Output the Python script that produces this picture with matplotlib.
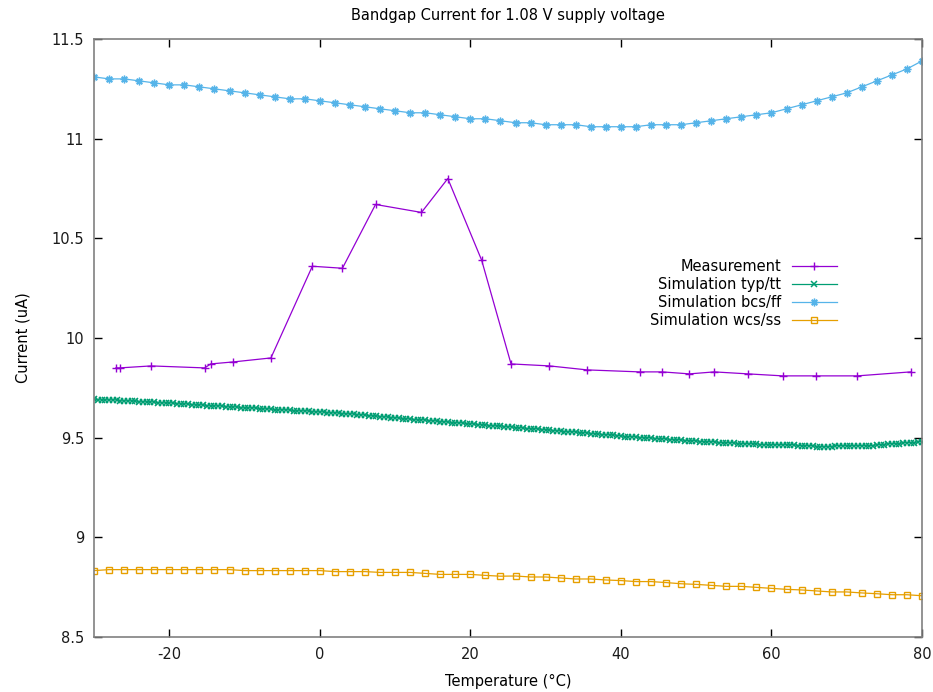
"""Bandgap current vs temperature at 1.08 V supply: measurement vs. corner simulations."""
import matplotlib
matplotlib.use("Agg")
import matplotlib.pyplot as plt
import numpy as np

# --- measurement -----------------------------------------------------------
MEAS_T = [-27.1, -26.6, -22.4, -15.3, -14.5, -11.5, -6.5, -1.0, 3.0, 7.4,
          13.5, 17.0, 21.5, 25.4, 30.5, 35.5, 42.5, 45.5, 49.1, 52.4,
          56.9, 61.5, 65.9, 71.4, 78.5]
MEAS_I = [9.85, 9.85, 9.86, 9.85, 9.87, 9.88, 9.90, 10.36, 10.35, 10.67,
          10.63, 10.80, 10.39, 9.87, 9.86, 9.84, 9.83, 9.83, 9.82, 9.83,
          9.82, 9.81, 9.81, 9.81, 9.83]

# --- simulation typ/tt (0.5 degC steps, -30 .. 80) ---------------------------
TT_T = np.arange(-30, 80.5, 0.5)
TT_I = [
    9.695, 9.690, 9.690, 9.690, 9.690, 9.690, 9.690, 9.685, 9.685, 9.685,
    9.685, 9.685, 9.680, 9.680, 9.680, 9.680, 9.680, 9.675, 9.675, 9.675,
    9.675, 9.675, 9.670, 9.670, 9.670, 9.670, 9.665, 9.665, 9.665, 9.665,
    9.660, 9.660, 9.660, 9.660, 9.660, 9.655, 9.655, 9.655, 9.655, 9.650,
    9.650, 9.650, 9.650, 9.650, 9.645, 9.645, 9.645, 9.645, 9.640, 9.640,
    9.640, 9.640, 9.640, 9.635, 9.635, 9.635, 9.635, 9.635, 9.630, 9.630,
    9.630, 9.630, 9.625, 9.625, 9.625, 9.625, 9.620, 9.620, 9.620, 9.620,
    9.615, 9.615, 9.615, 9.610, 9.610, 9.610, 9.605, 9.605, 9.605, 9.600,
    9.600, 9.600, 9.595, 9.595, 9.595, 9.590, 9.590, 9.590, 9.590, 9.585,
    9.585, 9.585, 9.580, 9.580, 9.580, 9.575, 9.575, 9.575, 9.575, 9.570,
    9.570, 9.570, 9.565, 9.565, 9.565, 9.560, 9.560, 9.560, 9.560, 9.555,
    9.555, 9.555, 9.550, 9.550, 9.550, 9.545, 9.545, 9.545, 9.545, 9.540,
    9.540, 9.540, 9.535, 9.535, 9.535, 9.530, 9.530, 9.530, 9.530, 9.525,
    9.525, 9.525, 9.520, 9.520, 9.520, 9.515, 9.515, 9.515, 9.515, 9.510,
    9.510, 9.505, 9.505, 9.505, 9.505, 9.500, 9.500, 9.500, 9.500, 9.495,
    9.495, 9.495, 9.495, 9.490, 9.490, 9.490, 9.490, 9.485, 9.485, 9.485,
    9.485, 9.480, 9.480, 9.480, 9.480, 9.480, 9.475, 9.475, 9.475, 9.475,
    9.475, 9.470, 9.470, 9.470, 9.470, 9.470, 9.470, 9.465, 9.465, 9.465,
    9.465, 9.465, 9.465, 9.465, 9.465, 9.465, 9.465, 9.460, 9.460, 9.460,
    9.460, 9.460, 9.455, 9.455, 9.455, 9.455, 9.455, 9.460, 9.460, 9.460,
    9.460, 9.460, 9.460, 9.460, 9.460, 9.460, 9.460, 9.460, 9.465, 9.465,
    9.465, 9.470, 9.470, 9.470, 9.470, 9.475, 9.475, 9.475, 9.475, 9.480,
    9.480,
]

# --- corner simulations (2 degC steps) --------------------------------------
CORNER_T = np.arange(-30, 81, 2)
FF_I = [11.31, 11.30, 11.30, 11.29, 11.28, 11.27, 11.27, 11.26, 11.25, 11.24,
        11.23, 11.22, 11.21, 11.20, 11.20, 11.19, 11.18, 11.17, 11.16, 11.15,
        11.14, 11.13, 11.13, 11.12, 11.11, 11.10, 11.10, 11.09,
        11.08, 11.08, 11.07, 11.07, 11.07, 11.06, 11.06, 11.06, 11.06, 11.07,
        11.07, 11.07, 11.08, 11.09, 11.10, 11.11, 11.12, 11.13, 11.15, 11.17,
        11.19, 11.21, 11.23, 11.26, 11.29, 11.32, 11.35, 11.39]
SS_I = [8.833, 8.838, 8.838, 8.838, 8.838, 8.838, 8.838, 8.838, 8.838, 8.838,
        8.833, 8.833, 8.833, 8.833, 8.833, 8.833, 8.828, 8.828, 8.828, 8.824,
        8.824, 8.824, 8.819, 8.814, 8.814, 8.814, 8.809, 8.805,
        8.806, 8.801, 8.801, 8.796, 8.791, 8.791, 8.786, 8.783, 8.778, 8.778,
        8.773, 8.767, 8.764, 8.759, 8.754, 8.754, 8.749, 8.744, 8.739, 8.736,
        8.731, 8.726, 8.726, 8.721, 8.717, 8.712, 8.712, 8.707]

Y_TICKS = [8.5, 9, 9.5, 10, 10.5, 11, 11.5]
Y_LABELS = ["8.5", "9", "9.5", "10", "10.5", "11", "11.5"]
X_TICKS = [-20, 0, 20, 40, 60, 80]

plt.rcParams["font.family"] = "DejaVu Sans"
plt.rcParams["axes.unicode_minus"] = False

fig = plt.figure(figsize=(9.33, 6.92), dpi=100)
ax = fig.add_axes([0.1008, 0.0795, 0.8874, 0.8641])

ax.plot(MEAS_T, MEAS_I, color="#9400d3", lw=0.9, marker="+", ms=6, mew=1.0,
        label="Measurement")
ax.plot(TT_T, TT_I, color="#009e73", lw=0.9, marker="x", ms=4.5, mew=1.1,
        label="Simulation typ/tt")
ax.plot(CORNER_T, FF_I, color="#56b4e9", lw=0.9, marker=(8, 2, 0), ms=5.5, mew=1.0,
        label="Simulation bcs/ff")
ax.plot(CORNER_T, SS_I, color="#e69f00", lw=0.9, marker="s", ms=5, mew=1.0,
        mfc="none", label="Simulation wcs/ss")

ax.set_xlim(-30, 80)
ax.set_ylim(8.5, 11.5)
ax.set_xticks(X_TICKS)
ax.set_yticks(Y_TICKS)
ax.set_yticklabels(Y_LABELS)
ax.tick_params(direction="in", length=5.5, width=1.0, top=True, right=True,
               labelsize=10.5, pad=7, colors="black", labelcolor="#1a1a1a")
for s in ax.spines.values():
    s.set_color("#808080")
    s.set_linewidth(1.2)

ax.set_title("Bandgap Current for 1.08 V supply voltage", fontsize=10.5, pad=14)
ax.set_xlabel("Temperature (°C)", fontsize=10.5, labelpad=9)
ax.set_ylabel("Current (uA)", fontsize=10.5, labelpad=15)

ax.legend(loc="upper right", bbox_to_anchor=(0.897, 0.632), frameon=False,
          markerfirst=False, fontsize=10.5, handlelength=3.1, handletextpad=0.7,
          labelspacing=0.2, borderpad=0, borderaxespad=0)

fig.savefig("out.png", dpi=100)
